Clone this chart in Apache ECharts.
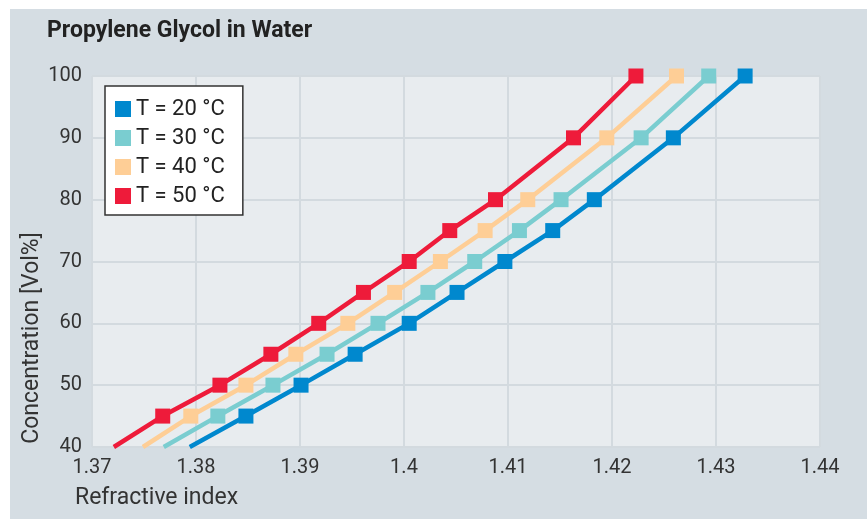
<!DOCTYPE html>
<html>
<head>
<meta charset="utf-8">
<script src="https://cdn.jsdelivr.net/npm/echarts@6/dist/echarts.min.js"></script>
<style>
html,body{margin:0;padding:0;background:#fff;}
#chart{width:867px;height:519px;}
</style>
</head>
<body>
<div id="chart"></div>
<script>
// Concentration levels (Vol%); 40 is the line's extension to the axis (no marker)
var concentrations = [40, 45, 50, 55, 60, 65, 70, 75, 80, 90, 100];
var ri20 = [1.3794, 1.3848, 1.3901, 1.3953, 1.4005, 1.4051, 1.4097, 1.4143, 1.4183, 1.4259, 1.4328];
var ri30 = [1.3769, 1.3821, 1.3874, 1.3926, 1.3975, 1.4023, 1.4068, 1.4111, 1.4151, 1.4228, 1.4293];
var ri40 = [1.3749, 1.3795, 1.3848, 1.3896, 1.3946, 1.3991, 1.4035, 1.4078, 1.4119, 1.4195, 1.4262];
var ri50 = [1.3721, 1.3768, 1.3823, 1.3872, 1.3918, 1.3961, 1.4005, 1.4044, 1.4088, 1.4163, 1.4223];
var seriesNames = ['T = 20 °C', 'T = 30 °C', 'T = 40 °C', 'T = 50 °C'];
var seriesColors = ['#0088ce', '#7acdd0', '#fece96', '#ee1b3a'];
var xTicks = [1.37, 1.44, 0.01];
var yTicks = [40, 100, 10];

var FONT = 'Roboto';

function build(xs) {
  return concentrations.map(function (c, i) {
    var item = { value: [xs[i], c] };
    if (c === 40) item.symbol = 'none';
    return item;
  });
}
var allRI = [ri20, ri30, ri40, ri50];

var chart = echarts.init(document.getElementById('chart'), null, { renderer: 'canvas' });
var option = {
  backgroundColor: '#ffffff',
  animation: false,
  textStyle: { fontFamily: FONT },
  title: {
    text: 'Propylene Glycol in Water',
    left: 42, top: 15,
    textStyle: { fontFamily: FONT, fontWeight: 'bold', fontSize: 23, color: '#222' }
  },
  graphic: [
    { type: 'rect', z: -10, silent: true, shape: { x: 10, y: 9, width: 857, height: 510 }, style: { fill: '#d5dde3' } },
    { type: 'text', z: 10, left: 75, top: 487, style: { text: 'Refractive index', fontFamily: FONT, fontSize: 23, fill: '#333' } },
    { type: 'text', z: 10, x: 32, y: 338, rotation: Math.PI / 2,
      style: { text: 'Concentration [Vol%]', fontFamily: FONT, fontSize: 23, fill: '#333', align: 'center', verticalAlign: 'middle' } }
  ],
  legend: {
    orient: 'vertical',
    left: 105, top: 86,
    padding: [12, 18, 8, 10],
    itemGap: 7,
    itemWidth: 16, itemHeight: 16,
    icon: 'rect',
    backgroundColor: '#ffffff',
    borderColor: '#333',
    borderWidth: 1.5,
    textStyle: { fontFamily: FONT, fontSize: 22, color: '#222' },
    data: seriesNames
  },
  grid: {
    left: 92, right: 47, top: 76, bottom: 72,
    show: true, backgroundColor: '#e8ecef', borderWidth: 0
  },
  xAxis: {
    type: 'value', min: xTicks[0], max: xTicks[1], interval: xTicks[2],
    axisLine: { show: false }, axisTick: { show: false },
    axisLabel: { fontFamily: FONT, fontSize: 20, color: '#333', margin: 11 },
    splitLine: { show: true, lineStyle: { color: '#d3dadf', width: 2 } }
  },
  yAxis: {
    type: 'value', min: yTicks[0], max: yTicks[1], interval: yTicks[2],
    axisLine: { show: false }, axisTick: { show: false },
    axisLabel: { fontFamily: FONT, fontSize: 20, color: '#333', margin: 10 },
    splitLine: { show: true, lineStyle: { color: '#d3dadf', width: 2 } }
  },
  series: seriesNames.map(function (n, k) {
    return {
      name: n, type: 'line',
      data: build(allRI[k]),
      symbol: 'rect', symbolSize: 15,
      showAllSymbol: true,
      clip: true,
      itemStyle: { color: seriesColors[k] },
      lineStyle: { color: seriesColors[k], width: 4.5 },
      z: 2 + k
    };
  })
};
chart.setOption(option);
</script>
</body>
</html>
